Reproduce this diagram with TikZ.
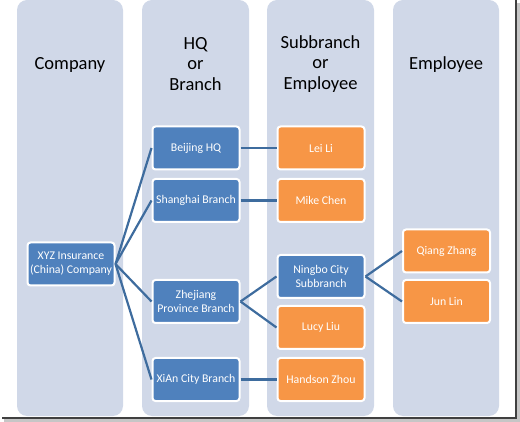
\documentclass[tikz,border=0pt]{standalone}
\usepackage{fontspec}
\setmainfont{Carlito}
\definecolor{colbg}{HTML}{D0D8E8}
\definecolor{boxblue}{HTML}{4F81BD}
\definecolor{boxorange}{HTML}{F79646}
\definecolor{linkblue}{HTML}{3E6C9E}
\tikzset{
  colhead/.style={align=center, text=black, font=\fontsize{18.5}{20.5}\selectfont},
  unitbox/.style={draw=white, line width=2pt, rounded corners=3pt,
    minimum width=87pt, minimum height=43pt, inner sep=1pt,
    align=center, text=white, font=\fontsize{11.8}{14.3}\selectfont},
  branchbox/.style={unitbox, fill=boxblue},
  personbox/.style={unitbox, fill=boxorange},
  link/.style={draw=linkblue, line width=2.2pt}
}
\begin{document}
\begin{tikzpicture}[x=1pt, y=-1pt]
  \useasboundingbox (0,0) rectangle (520,422);
  %columns
  \fill[colbg, rounded corners=10pt] (17,0) rectangle (123,416);
  \fill[colbg, rounded corners=10pt] (142,0) rectangle (249,416);
  \fill[colbg, rounded corners=10pt] (267,0) rectangle (374,416);
  \fill[colbg, rounded corners=10pt] (393,0) rectangle (499,416);
  %frame
  \fill[gray!45] (4,418) rectangle (520,422);
  \fill[gray!45] (516,3) rectangle (520,422);
  \draw[black!75, line width=1.2pt] (2,418) -- (516,418) -- (516,0);
  %headers
  \node[colhead] (hcompany) at (70,64.5) {Company};
  \node[colhead] (hbranch) at (195.5,64) {HQ\\or\\Branch};
  \node[colhead] (hsub) at (320.5,64) {Subbranch\\or\\Employee};
  \node[colhead] (hemployee) at (446,64.5) {Employee};
  %boxes
  \node[branchbox] (xyz) at (71,264) {XYZ Insurance\\(China) Company};
  \node[branchbox] (beijing) at (196,148) {Beijing HQ};
  \node[branchbox] (shanghai) at (196,200.5) {Shanghai Branch};
  \node[branchbox] (zhejiang) at (196,301.5) {Zhejiang\\Province Branch};
  \node[branchbox] (xian) at (196,379.5) {XiAn City Branch};
  \node[personbox] (leili) at (321,148) {Lei Li};
  \node[personbox] (mikechen) at (321,200.5) {Mike Chen};
  \node[branchbox] (ningbo) at (321,276.5) {Ningbo City\\Subbranch};
  \node[personbox] (lucyliu) at (321,327.5) {Lucy Liu};
  \node[personbox] (handson) at (321,379.5) {Handson Zhou};
  \node[personbox] (qiang) at (446.5,251) {Qiang Zhang};
  \node[personbox] (junlin) at (446.5,301.5) {Jun Lin};
  %links
  \draw[link] (xyz.east) -- (beijing.west);
  \draw[link] (xyz.east) -- (shanghai.west);
  \draw[link] (xyz.east) -- (zhejiang.west);
  \draw[link] (xyz.east) -- (xian.west);
  \draw[link] (beijing.east) -- (leili.west);
  \draw[link] (shanghai.east) -- (mikechen.west);
  \draw[link] (zhejiang.east) -- (ningbo.west);
  \draw[link] (zhejiang.east) -- (lucyliu.west);
  \draw[link] (xian.east) -- (handson.west);
  \draw[link] (ningbo.east) -- (qiang.west);
  \draw[link] (ningbo.east) -- (junlin.west);
\end{tikzpicture}
\end{document}
